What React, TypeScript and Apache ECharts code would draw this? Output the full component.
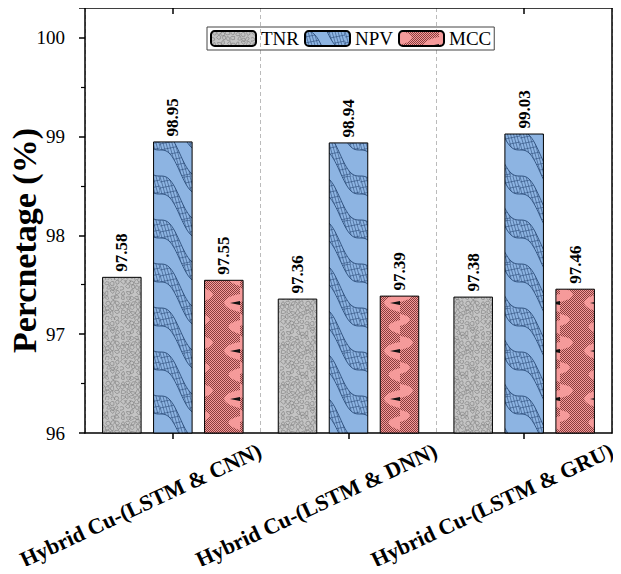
import React, { useEffect, useRef } from "react";
import * as echarts from "echarts";

const categories = ["Hybrid Cu-(LSTM & CNN)", "Hybrid Cu-(LSTM & DNN)", "Hybrid Cu-(LSTM & GRU)"];
const seriesNames = ["TNR", "NPV", "MCC"];
const tnrValues = [97.58, 97.36, 97.38];
const npvValues = [98.95, 98.94, 99.03];
const mccValues = [97.55, 97.39, 97.46];
const yMin = 96;
const yMax = 100.3;
const yInterval = 1;

const FONT = "'Liberation Serif', 'Times New Roman', serif";
const BAR_WIDTH_RATIO = 0.225;
const BAR_GAP_RATIO = 0.29;

function hash(n: number) {
  const s = Math.sin(n * 127.1 + 311.7) * 43758.5453;
  return s - Math.floor(s);
}

function makeTNR() {
  const w = 40, h = 40;
  const c = document.createElement("canvas");
  c.width = w; c.height = h;
  const g = c.getContext("2d")!;
  g.fillStyle = "#c4c4c4";
  g.fillRect(0, 0, w, h);
  g.strokeStyle = "#7c7c7c";
  g.lineWidth = 0.6;
  for (let i = 0; i < 8; i++) {
    for (let j = 0; j < 8; j++) {
      const cx = i * 5 + 2.5 + (hash(i * 7 + j) - 0.5) * 2;
      const cy = j * 5 + 2.5 + (hash(i * 13 + j * 3 + 1) - 0.5) * 2;
      g.beginPath();
      const n = 5;
      for (let k = 0; k < n; k++) {
        const a = (k / n) * Math.PI * 2 + hash(i + j * 5 + k) * 0.8;
        const r = 1.6 + hash(i * 3 + j * 11 + k * 2) * 1.2;
        const x = cx + Math.cos(a) * r;
        const y = cy + Math.sin(a) * r;
        if (k === 0) g.moveTo(x, y); else g.lineTo(x, y);
      }
      g.closePath();
      g.stroke();
    }
  }
  return { image: c.toDataURL(), repeat: "repeat", imageWidth: w, imageHeight: h };
}

function makeNPV() {
  const w = 40, h = 44;
  const c = document.createElement("canvas");
  c.width = w; c.height = h;
  const g = c.getContext("2d")!;
  g.fillStyle = "#8db4e2";
  g.fillRect(0, 0, w, h);
  const curve = (x: number, off: number) => off + (x * h) / w - 7 * Math.sin((2 * Math.PI * x) / w);
  for (let off = -2 * h; off <= h; off += h) {
    g.save();
    g.beginPath();
    for (let x = 0; x <= w; x += 1) {
      const y = curve(x, off);
      if (x === 0) g.moveTo(x, y); else g.lineTo(x, y);
    }
    for (let x = w; x >= 0; x -= 1) g.lineTo(x, curve(x, off) + 18);
    g.closePath();
    g.clip();
    g.strokeStyle = "#2d4e7a";
    g.lineWidth = 0.6;
    for (let t = -60; t < 100; t += 3) {
      g.beginPath();
      g.moveTo(t, -10);
      g.lineTo(t + 20, 60);
      g.stroke();
    }
    for (let t = 0; t < 60; t += 6) {
      g.beginPath();
      g.moveTo(0, t);
      g.lineTo(w, t - 8);
      g.stroke();
    }
    g.restore();
    g.strokeStyle = "#2d4e7a";
    g.lineWidth = 0.9;
    g.beginPath();
    for (let x = 0; x <= w; x += 1) {
      const y = curve(x, off);
      if (x === 0) g.moveTo(x, y); else g.lineTo(x, y);
    }
    g.stroke();
    g.beginPath();
    for (let x = 0; x <= w; x += 1) {
      const y = curve(x, off) + 18;
      if (x === 0) g.moveTo(x, y); else g.lineTo(x, y);
    }
    g.stroke();
  }
  return { image: c.toDataURL(), repeat: "repeat", imageWidth: w, imageHeight: h };
}

function makeMCC() {
  const w = 40, h = 48;
  const c = document.createElement("canvas");
  c.width = w; c.height = h;
  const g = c.getContext("2d")!;
  g.fillStyle = "#f59a9a";
  g.fillRect(0, 0, w, h);
  g.fillStyle = "#8a3e3e";
  for (let x = 0; x < w; x++) {
    for (let y = 0; y < h; y++) {
      if ((x + y) % 2 === 0) g.fillRect(x, y, 1, 1);
    }
  }
  g.fillStyle = "#f59a9a";
  g.beginPath();
  g.moveTo(0, 0);
  g.bezierCurveTo(16, 2, 18, 10, 0, 14);
  g.closePath();
  g.fill();
  g.beginPath();
  g.moveTo(0, 26);
  g.bezierCurveTo(12, 28, 14, 34, 0, 38);
  g.closePath();
  g.fill();
  g.beginPath();
  g.moveTo(w, 6);
  g.bezierCurveTo(18, 10, 20, 20, w, 24);
  g.closePath();
  g.fill();
  g.beginPath();
  g.moveTo(w, 32);
  g.bezierCurveTo(24, 36, 26, 42, w, 46);
  g.closePath();
  g.fill();
  g.fillStyle = "#111";
  g.beginPath();
  g.moveTo(w, 13);
  g.lineTo(w - 10, 15);
  g.lineTo(w, 17);
  g.closePath();
  g.fill();
  return { image: c.toDataURL(), repeat: "repeat", imageWidth: w, imageHeight: h };
}

export default function App() {
  const ref = useRef<HTMLDivElement>(null);
  useEffect(() => {
    if (!ref.current) return;
    const chart = echarts.init(ref.current, null, { renderer: "svg" });
    const patterns = [makeTNR(), makeNPV(), makeMCC()];
    const values = [tnrValues, npvValues, mccValues];
    const barSeries = seriesNames.map((name, i) => ({
      name,
      type: "bar",
      xAxisIndex: 0,
      yAxisIndex: 0,
      data: values[i],
      barWidth: BAR_WIDTH_RATIO * 100 + "%",
      barGap: BAR_GAP_RATIO * 100 + "%",
      itemStyle: { color: patterns[i], borderColor: "#000", borderWidth: 1 },
    }));
    chart.setOption({
      animation: false,
      backgroundColor: "#fff",
      textStyle: { fontFamily: FONT },
      legend: {
        data: seriesNames,
        left: 207,
        top: 27,
        padding: [2, 3, 2, 3],
        itemGap: 5,
        itemWidth: 45,
        itemHeight: 15,
        borderColor: "#444",
        borderWidth: 1,
        textStyle: { fontFamily: FONT, fontSize: 19, color: "#000" },
      },
      grid: { left: 85, right: 9, top: 8, bottom: 141, containLabel: false, outerBoundsMode: "none" },
      xAxis: [
        {
          type: "category",
          data: categories,
          position: "bottom",
          axisLine: { show: true, lineStyle: { color: "#000", width: 1.5 } },
          axisTick: { show: true, alignWithLabel: true, length: 6, lineStyle: { color: "#000", width: 1.5 } },
          splitLine: { show: true, lineStyle: { color: "#bbbbbb", type: [4, 3], width: 1 } },
          axisLabel: {
            interval: 0,
            rotate: 25,
            align: "center",
            verticalAlign: "middle",
            margin: 57,
            padding: [0, 71, 0, 0],
            overflow: "none",
            fontFamily: FONT,
            fontWeight: "bold",
            fontSize: 22,
            color: "#000",
          },
        },
        {
          type: "category",
          data: categories,
          position: "top",
          axisLine: { show: true, lineStyle: { color: "#000", width: 1.5 } },
          axisTick: { show: true, inside: true, alignWithLabel: true, length: 6, lineStyle: { color: "#000", width: 1.5 } },
          axisLabel: { show: false },
          splitLine: { show: false },
        },
      ],
      yAxis: [
        {
          type: "value",
          min: yMin,
          max: yMax,
          interval: yInterval,
          name: "Percnetage (%)",
          nameLocation: "middle",
          nameGap: 44,
          nameMoveOverlap: false,
          nameTextStyle: { fontFamily: FONT, fontWeight: "bold", fontSize: 34, color: "#000", padding: [0, 40, 0, 0] },
          axisLine: { show: true, lineStyle: { color: "#000", width: 1.5 } },
          axisTick: { show: true, length: 6, lineStyle: { color: "#000", width: 1.5 } },
          minorTick: { show: true, splitNumber: 2, length: 4, lineStyle: { color: "#000", width: 1.2 } },
          splitLine: { show: false },
          axisLabel: {
            fontFamily: FONT,
            fontSize: 19,
            color: "#000",
            margin: 20,
            formatter: (v: number) => (Math.abs(v - Math.round(v)) < 1e-6 ? String(Math.round(v)) : ""),
          },
        },
        {
          type: "value",
          min: yMin,
          max: yMax,
          interval: yInterval,
          position: "right",
          axisLine: { show: true, lineStyle: { color: "#000", width: 1.5 } },
          axisTick: { show: false },
          axisLabel: { show: false },
          splitLine: { show: false },
        },
      ],
      series: barSeries,
    });

    // value labels, positioned through the chart's own scales
    const x0 = chart.convertToPixel({ xAxisIndex: 0 }, 0) as number;
    const x1 = chart.convertToPixel({ xAxisIndex: 0 }, 1) as number;
    const band = x1 - x0;
    const step = band * BAR_WIDTH_RATIO * (1 + BAR_GAP_RATIO);
    const labels: any[] = [];
    values.forEach((arr, i) => {
      arr.forEach((v, k) => {
        const pt = chart.convertToPixel({ gridIndex: 0 }, [k, v]) as number[];
        labels.push({
          type: "text",
          x: pt[0] + (i - 1) * step,
          y: pt[1] - 5,
          rotation: Math.PI / 2,
          z: 10,
          silent: true,
          style: {
            text: v.toFixed(2),
            fill: "#000",
            font: "bold 17px " + FONT,
            align: "left",
            verticalAlign: "middle",
          },
        });
      });
    });
    chart.setOption({ graphic: labels });
    return () => chart.dispose();
  }, []);
  return <div ref={ref} style={{ width: 621, height: 574, margin: -8 }} />;
}
